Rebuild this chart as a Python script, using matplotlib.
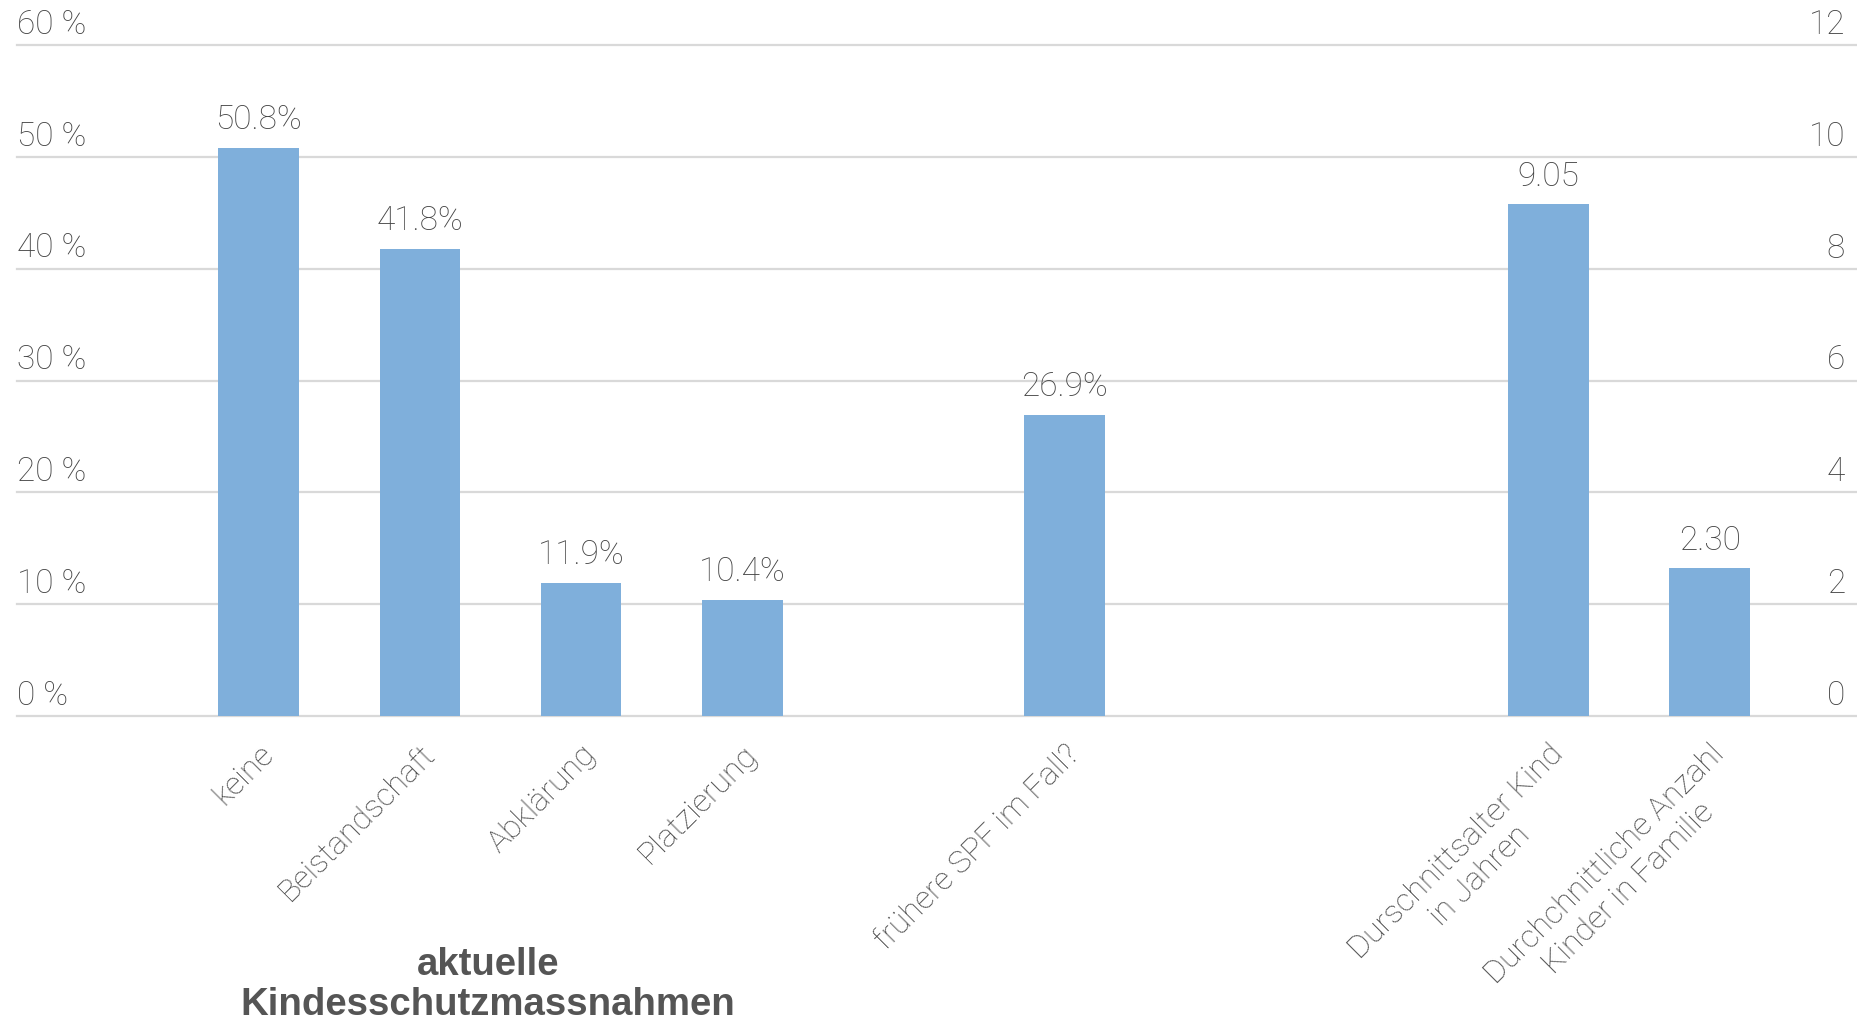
import matplotlib
matplotlib.use("Agg")
import matplotlib.pyplot as plt
import matplotlib.transforms as mtransforms

# ---- data ----
pct_categories = ["keine", "Beistandschaft", "Abklärung", "Platzierung", "frühere SPF im Fall?"]
pct_values = [50.8, 41.8, 11.9, 10.4, 26.9]
pct_slots = [0, 1, 2, 3, 5]

num_categories = ["Durschnittsalter Kind\nin Jahren", "Durchchnittliche Anzahl\nKinder in Familie"]
num_labels = ["9.05", "2.30"]          # printed values
num_heights = [9.15, 2.64]             # bar heights as drawn on the right axis
num_slots = [8, 9]

left_ticks = [0, 10, 20, 30, 40, 50, 60]
left_tick_labels = ["0 %", "10 %", "20 %", "30 %", "40 %", "50 %", "60 %"]
right_ticks = [0, 2, 4, 6, 8, 10, 12]
right_tick_labels = ["0", "2", "4", "6", "8", "10", "12"]

group_title = "aktuelle\nKindesschutzmassnahmen"

# ---- style ----
BAR = "#7FAFDB"
GRID = "#D9D9D9"
TXT = "#444444"
TITLE_C = "#555555"
FONT = ["Roboto", "DejaVu Sans"]
FS = 24
FS_CAT = 23

plt.rcParams["font.family"] = FONT

W, H = 1858, 1026
fig = plt.figure(figsize=(W / 100, H / 100), dpi=100)
ax_left_px, ax_top_px, ax_bot_px = 17, 45, 716
ax = fig.add_axes([ax_left_px / W, 1 - ax_bot_px / H, 1 - ax_left_px / W, (ax_bot_px - ax_top_px) / H])
ax2 = ax.twinx()

ax.set_xlim(-1.5, -1.5 + (W - ax_left_px) / 161.2)
ax.set_ylim(0, 60)
ax2.set_ylim(0, 12)

for a in (ax, ax2):
    for s in a.spines.values():
        s.set_visible(False)
    a.set_yticks([])
    a.tick_params(axis="x", length=0)

for v in left_ticks:
    ax.axhline(v, color=GRID, lw=1.6, zorder=0, clip_on=False)

b1 = ax.bar(pct_slots, pct_values, width=0.5, color=BAR, zorder=3)
b2 = ax2.bar(num_slots, num_heights, width=0.5, color=BAR, zorder=3)

ax.bar_label(b1, labels=[f"{v:.1f}%" for v in pct_values], padding=8.5,
             fontsize=FS, color=TXT, fontweight="light")
ax2.bar_label(b2, labels=num_labels, padding=8.5,
              fontsize=FS, color=TXT, fontweight="light")

# y tick labels above gridlines
off = mtransforms.ScaledTranslation(0, 3 / 72, fig.dpi_scale_trans)
for v, lab in zip(left_ticks, left_tick_labels):
    ax.text(0, v, lab, transform=ax.get_yaxis_transform() + off, ha="left", va="bottom",
            fontsize=FS, color=TXT, fontweight="light")
for v, lab in zip(right_ticks, right_tick_labels):
    ax2.text(1 - 13 / (W - ax_left_px), v, lab, transform=ax2.get_yaxis_transform() + off,
             ha="right", va="bottom", fontsize=FS, color=TXT, fontweight="light")

# x tick labels
ax.set_xticks(pct_slots + num_slots)
ax.set_xticklabels(pct_categories + num_categories, rotation=45, ha="right",
                   rotation_mode="anchor", fontsize=FS_CAT, color=TXT, fontweight="light",
                   multialignment="center")
ax.tick_params(axis="x", pad=17)

# group title
trans = mtransforms.blended_transform_factory(ax.transData, fig.transFigure)
ax.text(1.42, 0.040, group_title, transform=trans, ha="center", va="center",
        fontsize=27.6, fontweight="bold", color=TITLE_C, linespacing=1.13,
        family=["Liberation Sans", "DejaVu Sans"])

fig.savefig("out.png", dpi=100, facecolor="white")
